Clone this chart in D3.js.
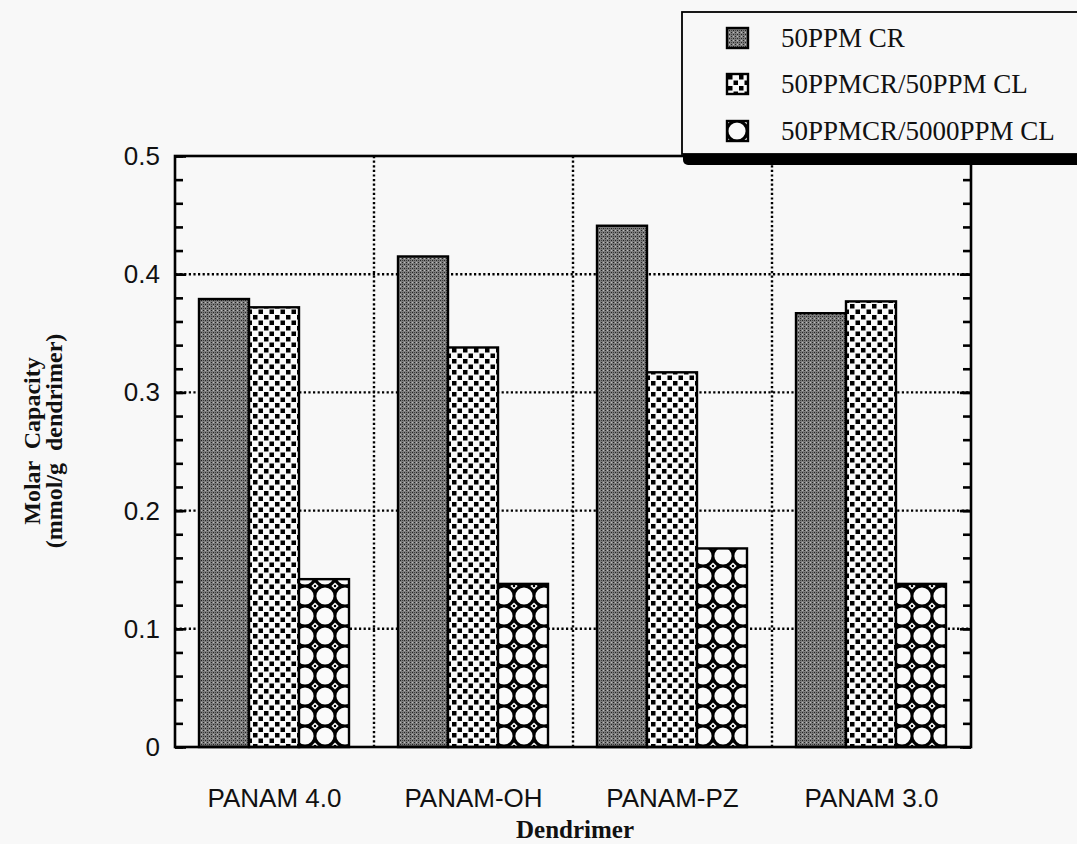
<!DOCTYPE html>
<html>
<head>
<meta charset="utf-8">
<script src="https://cdn.jsdelivr.net/npm/d3@7"></script>
<style>
  html, body { margin: 0; padding: 0; background: #f8f8f8; }
  svg { display: block; }
</style>
</head>
<body>
<svg id="chart" width="1077" height="844"></svg>
<script>
// data
const categories = ['PANAM 4.0', 'PANAM-OH', 'PANAM-PZ', 'PANAM 3.0'];
const seriesNames = ['50PPM CR', '50PPMCR/50PPM CL', '50PPMCR/5000PPM CL'];
const cr50 = [0.379, 0.415, 0.441, 0.367];
const cr50cl50 = [0.372, 0.338, 0.317, 0.377];
const cr50cl5000 = [0.142, 0.138, 0.168, 0.138];
const yTicks = [0, 0.1, 0.2, 0.3, 0.4, 0.5];

const seriesValues = [cr50, cr50cl50, cr50cl5000];

const plot = { left: 175, right: 971, top: 156, bottom: 747 };

const svg = d3.select('#chart');
const defs = svg.append('defs');

// --- fill patterns (scanned hatching), ox/oy shift the tile origin ---
function makePatterns(suffix, ox, oy) {
  // dense gray stipple
  const pg = defs.append('pattern').attr('id', 'pat-gray' + suffix)
      .attr('patternUnits', 'userSpaceOnUse').attr('width', 4).attr('height', 4)
      .attr('x', ox).attr('y', oy);
  pg.append('rect').attr('width', 4).attr('height', 4).attr('fill', '#7c7c7c');
  pg.append('rect').attr('x', 0).attr('y', 0).attr('width', 1).attr('height', 1).attr('fill', '#222');
  pg.append('rect').attr('x', 2).attr('y', 2).attr('width', 1).attr('height', 1).attr('fill', '#222');
  pg.append('rect').attr('x', 2).attr('y', 0).attr('width', 1).attr('height', 1).attr('fill', '#bbb');
  pg.append('rect').attr('x', 0).attr('y', 2).attr('width', 1).attr('height', 1).attr('fill', '#444');

  // staggered black squares
  const ps = defs.append('pattern').attr('id', 'pat-squares' + suffix)
      .attr('patternUnits', 'userSpaceOnUse').attr('width', 11).attr('height', 11)
      .attr('x', ox).attr('y', oy);
  ps.append('rect').attr('width', 11).attr('height', 11).attr('fill', '#fafafa');
  ps.append('rect').attr('x', 1).attr('y', 1).attr('width', 4.5).attr('height', 4.5).attr('fill', '#000');
  ps.append('rect').attr('x', 6.5).attr('y', 6.5).attr('width', 4.5).attr('height', 4.5).attr('fill', '#000');

  // interlocking circles
  const pc = defs.append('pattern').attr('id', 'pat-circles' + suffix)
      .attr('patternUnits', 'userSpaceOnUse').attr('width', 20).attr('height', 20)
      .attr('x', ox).attr('y', oy);
  pc.append('rect').attr('width', 20).attr('height', 20).attr('fill', '#000');
  pc.append('circle').attr('cx', 10).attr('cy', 10).attr('r', 8.6).attr('fill', '#fafafa');
  [[0, 0], [20, 0], [0, 20], [20, 20]].forEach(([cx, cy]) => {
    pc.append('path')
      .attr('d', `M${cx - 3.6},${cy} L${cx},${cy - 3.6} L${cx + 3.6},${cy} L${cx},${cy + 3.6} Z`)
      .attr('fill', '#fafafa');
    pc.append('rect').attr('x', cx - 1.1).attr('y', cy - 1.1).attr('width', 2.2).attr('height', 2.2).attr('fill', '#000');
  });
}
makePatterns('', 0, 6);
const patternIds = ['pat-gray', 'pat-squares', 'pat-circles'];

// --- scales ---
const x0 = d3.scaleBand().domain(categories).range([plot.left, plot.right]).padding(0);
const x1 = d3.scaleBand().domain(d3.range(seriesNames.length))
    .range([24, x0.bandwidth() - 25]).padding(0);
const y = d3.scaleLinear().domain([0, 0.5]).range([plot.bottom, plot.top]);

// --- dotted grid ---
const grid = svg.append('g');
grid.selectAll('line.h').data(yTicks.filter(v => v > 0 && v < 0.5)).join('line')
    .attr('x1', plot.left).attr('x2', plot.right)
    .attr('y1', d => y(d)).attr('y2', d => y(d))
    .attr('stroke', '#000').attr('stroke-width', 2.4).attr('stroke-dasharray', '2.2,2.4');
grid.selectAll('line.v').data(categories.slice(1)).join('line')
    .attr('x1', d => x0(d)).attr('x2', d => x0(d))
    .attr('y1', plot.top).attr('y2', plot.bottom)
    .attr('stroke', '#000').attr('stroke-width', 2.4).attr('stroke-dasharray', '2.2,2.4');

// --- bars ---
const groups = svg.append('g').selectAll('g').data(categories).join('g')
    .attr('transform', d => `translate(${x0(d)},0)`);
groups.selectAll('rect')
    .data((c, ci) => seriesValues.map((vals, si) => ({ si, v: vals[ci] })))
    .join('rect')
    .attr('x', d => x1(d.si))
    .attr('width', x1.bandwidth())
    .attr('y', d => y(d.v))
    .attr('height', d => y(0) - y(d.v))
    .attr('fill', d => `url(#${patternIds[d.si]})`)
    .attr('stroke', '#000').attr('stroke-width', 2.4);

// --- frame and ticks ---
svg.append('rect')
    .attr('x', plot.left).attr('y', plot.top)
    .attr('width', plot.right - plot.left).attr('height', plot.bottom - plot.top)
    .attr('fill', 'none').attr('stroke', '#000').attr('stroke-width', 2.6);

const leftAxis = d3.axisRight(y).tickValues(yTicks).tickSize(11).tickFormat('');
const leftMinor = d3.axisRight(y).ticks(25).tickSize(8).tickFormat('');
svg.append('g').attr('transform', `translate(${plot.left},0)`).call(leftMinor);
svg.append('g').attr('transform', `translate(${plot.left},0)`).call(leftAxis);
const rightAxis = d3.axisLeft(y).tickValues(yTicks).tickSize(11).tickFormat('');
const rightMinor = d3.axisLeft(y).ticks(25).tickSize(8).tickFormat('');
svg.append('g').attr('transform', `translate(${plot.right},0)`).call(rightMinor);
svg.append('g').attr('transform', `translate(${plot.right},0)`).call(rightAxis);
svg.selectAll('.domain').remove();
svg.selectAll('.tick line').attr('stroke', '#000').attr('stroke-width', 2.6);

// y tick labels
svg.append('g').selectAll('text').data(yTicks).join('text')
    .attr('x', 160).attr('y', d => y(d) + 9)
    .attr('text-anchor', 'end')
    .attr('font-family', 'Liberation Sans, Arial, sans-serif')
    .attr('font-size', 26).attr('fill', '#111')
    .text(d => d === 0 ? '0' : d3.format('.1f')(d));

// x category labels
svg.append('g').selectAll('text').data(categories).join('text')
    .attr('x', d => x0(d) + x0.bandwidth() / 2)
    .attr('y', 807)
    .attr('text-anchor', 'middle')
    .attr('font-family', 'Liberation Sans, Arial, sans-serif')
    .attr('font-size', 26).attr('fill', '#111')
    .text(d => d);

// axis titles
svg.append('text')
    .attr('x', (plot.left + plot.right) / 2 + 2).attr('y', 838)
    .attr('text-anchor', 'middle')
    .attr('font-family', 'Liberation Serif, Times New Roman, serif')
    .attr('font-weight', 'bold').attr('font-size', 25).attr('fill', '#111')
    .text('Dendrimer');

const ylab = svg.append('text')
    .attr('transform', 'translate(0,441) rotate(-90)')
    .attr('text-anchor', 'middle')
    .attr('font-family', 'Liberation Serif, Times New Roman, serif')
    .attr('font-weight', 'bold').attr('font-size', 24).attr('fill', '#111')
    .attr('xml:space', 'preserve');
ylab.append('tspan').attr('x', 0).attr('y', 40).text('Molar  Capacity');
ylab.append('tspan').attr('x', 0).attr('y', 62).text('(mmol/g  dendrimer)');

// --- legend (drawn over the plot corner) ---
const lg = svg.append('g');
lg.append('rect')
    .attr('x', 683).attr('y', 22).attr('width', 420).attr('height', 143)
    .attr('rx', 5).attr('fill', '#000');
lg.append('rect')
    .attr('x', 682).attr('y', 12).attr('width', 420).attr('height', 142)
    .attr('fill', '#f8f8f8').attr('stroke', '#000').attr('stroke-width', 1.8);

const rowY = [38, 84, 131];
rowY.forEach((ry, i) => makePatterns('-lg' + i, 727, ry - 10));
lg.selectAll('rect.sw').data(seriesNames).join('rect')
    .attr('class', 'sw')
    .attr('x', 727).attr('y', (d, i) => rowY[i] - 10)
    .attr('width', 21).attr('height', 20)
    .attr('fill', (d, i) => `url(#${patternIds[i]}-lg${i})`)
    .attr('stroke', '#000').attr('stroke-width', 2.4);
lg.selectAll('text').data(seriesNames).join('text')
    .attr('x', 781).attr('y', (d, i) => rowY[i] + 9)
    .attr('font-family', 'Liberation Serif, Times New Roman, serif')
    .attr('font-size', 27).attr('fill', '#111')
    .text(d => d);
</script>
</body>
</html>
